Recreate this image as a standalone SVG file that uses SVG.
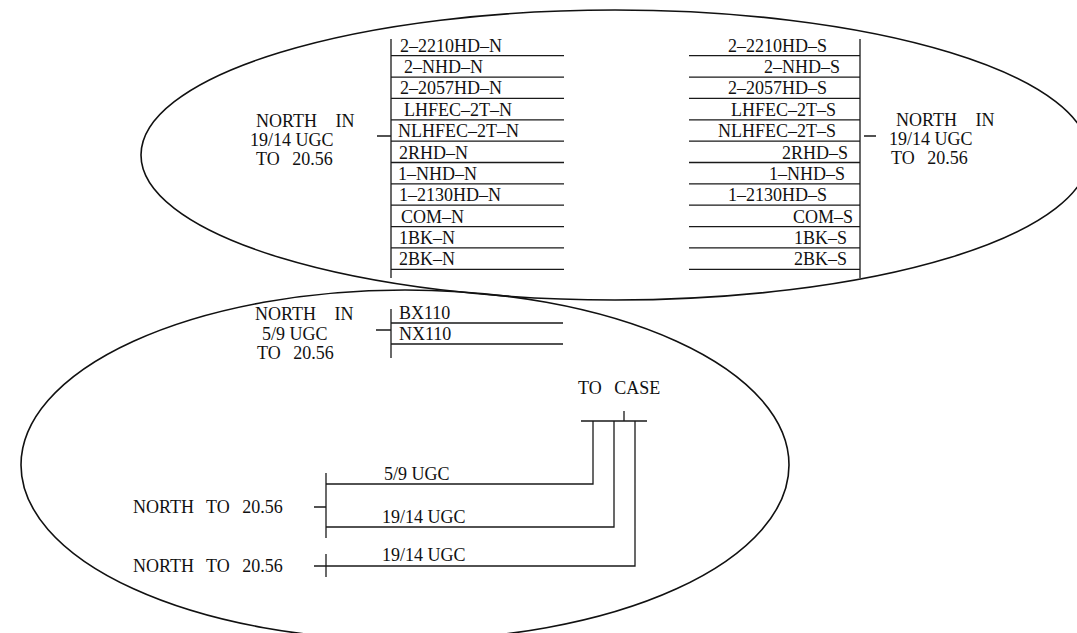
<svg xmlns="http://www.w3.org/2000/svg" width="1077" height="633" viewBox="0 0 1077 633">
<style>
text{font-family:"Liberation Serif","Times New Roman",serif;font-size:18px;fill:#111}
.lb{word-spacing:8px}
.ni{word-spacing:14px}
.ln{stroke:#1a1a1a;stroke-width:1.3;fill:none}
.el{stroke:#111;stroke-width:1.6;fill:none}
</style>
<rect width="1077" height="633" fill="#fff"/>
<g id="zones">
<ellipse class="el" cx="615" cy="155" rx="474" ry="145"/>
<ellipse class="el" cx="405" cy="465" rx="384" ry="175"/>
</g>
<g id="north-bus">
<path class="ln" d="M391 39V278M391 55.7H564M391 77.1H564M391 98.4H564M391 119.8H564M391 141.1H564M391 162.5H564M391 183.9H564M391 205.2H564M391 226.6H564M391 247.9H564M391 269.3H564"/>
<text x="400" y="51.7">2–2210HD–N</text>
<text x="404" y="73.1">2–NHD–N</text>
<text x="400" y="94.4">2–2057HD–N</text>
<text x="404" y="115.8">LHFEC–2T–N</text>
<text x="398" y="137.1">NLHFEC–2T–N</text>
<text x="399" y="158.5">2RHD–N</text>
<text x="398" y="179.9">1–NHD–N</text>
<text x="399" y="201.2">1–2130HD–N</text>
<text x="401" y="222.6">COM–N</text>
<text x="399" y="243.9">1BK–N</text>
<text x="399" y="265.3">2BK–N</text>
</g>
<g id="south-bus">
<path class="ln" d="M860 39V278M689 55.7H860M689 77.1H860M689 98.4H860M689 119.8H860M689 141.1H860M689 162.5H860M689 183.9H860M689 205.2H860M689 226.6H860M689 247.9H860M689 269.3H860"/>
<text x="728" y="51.7">2–2210HD–S</text>
<text x="764" y="73.1">2–NHD–S</text>
<text x="728" y="94.4">2–2057HD–S</text>
<text x="731" y="115.8">LHFEC–2T–S</text>
<text x="718" y="137.1">NLHFEC–2T–S</text>
<text x="782" y="158.5">2RHD–S</text>
<text x="769" y="179.9">1–NHD–S</text>
<text x="728" y="201.2">1–2130HD–S</text>
<text x="793" y="222.6">COM–S</text>
<text x="794" y="243.9">1BK–S</text>
<text x="794" y="265.3">2BK–S</text>
</g>
<g id="label-north-left">
<text class="ni" x="256" y="127">NORTH IN</text>
<text x="250" y="146">19/14 UGC</text>
<text class="lb" x="256" y="165">TO 20.56</text>
</g>
<g id="label-north-right">
<text class="ni" x="896" y="126">NORTH IN</text>
<text x="889" y="145">19/14 UGC</text>
<text class="lb" x="891" y="164">TO 20.56</text>
</g>
<g id="bx-bus">
<path class="ln" d="M391 309V358M391 323H563M391 344H563"/>
<text x="399" y="319">BX110</text>
<text x="399" y="340">NX110</text>
</g>
<g id="label-north-59">
<text class="ni" x="255" y="320">NORTH IN</text>
<text x="262" y="340">5/9 UGC</text>
<text class="lb" x="257" y="359">TO 20.56</text>
</g>
<g id="to-case">
<text class="lb" x="578" y="394">TO CASE</text>
<path class="ln" d="M581 421H647M624 411V421"/>
</g>
<g id="north-to-1">
<text class="lb" x="133" y="513">NORTH TO 20.56</text>
<path class="ln" d="M326 473V538"/>
</g>
<g id="north-to-2">
<text class="lb" x="133" y="572">NORTH TO 20.56</text>
<path class="ln" d="M326 554V577"/>
</g>
<g id="connectors">
<path class="ln" d="M377 136H391M864 136H876M376 330H391M314 507H326"/>
<path class="ln" d="M326 484H593V421M326 527H614V421M314 566H635V421"/>
<text x="384" y="480">5/9 UGC</text>
<text x="382" y="523">19/14 UGC</text>
<text x="382" y="561">19/14 UGC</text>
</g>
</svg>
